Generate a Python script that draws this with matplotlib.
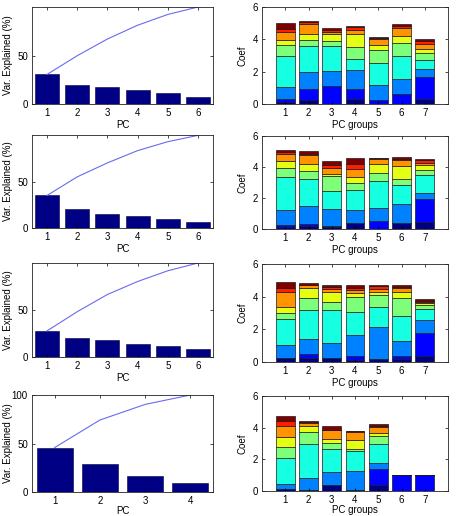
import numpy as np
import matplotlib
matplotlib.use("Agg")
import matplotlib.pyplot as plt

plt.rcParams['font.family'] = ['Liberation Sans', 'DejaVu Sans']
plt.rcParams['font.size'] = 7

# Dados ###############################################################################

# variancia explicada por PC (%), uma lista por linha
var_1 = [30.5, 19.3, 17.2, 14.2, 11.1, 7.7]
var_2 = [35.0, 20.0, 15.0, 13.2, 9.6, 6.8]
var_3 = [27.8, 20.4, 18.3, 13.8, 11.4, 8.3]
var_4 = [45.8, 28.4, 16.1, 9.7]

# niveis acumulados dos coeficientes (navy, azul, azul claro, ciano, verde, amarelo, laranja, vermelho, vinho)
coef_1 = [
    [0.10, 0.33, 1.05, 2.99, 3.65, 3.97, 4.48, 4.67, 5.00],
    [0.27, 0.93, 1.98, 3.61, 3.94, 4.33, 4.95, 5.07, 5.15],
    [0.02, 1.09, 2.06, 3.61, 3.90, 4.31, 4.43, 4.56, 4.70],
    [0.33, 0.95, 2.10, 2.78, 3.51, 4.31, 4.56, 4.74, 4.85],
    [0.00, 0.27, 1.20, 2.54, 3.36, 3.67, 4.05, 4.08, 4.14],
    [0.00, 0.64, 1.55, 2.95, 3.77, 4.19, 4.70, 4.85, 4.97],
    [0.29, 1.69, 2.16, 2.70, 3.15, 3.40, 3.73, 3.92, 4.04],
]
coef_2 = [
    [0.15, 0.28, 1.25, 3.35, 3.96, 4.39, 4.82, 4.97, 5.12],
    [0.20, 0.30, 1.48, 3.25, 3.72, 4.22, 4.78, 4.85, 5.01],
    [0.15, 0.17, 1.31, 2.43, 3.40, 3.57, 3.94, 4.11, 4.39],
    [0.41, 0.41, 1.25, 2.49, 2.99, 3.35, 3.87, 4.22, 4.56],
    [0.00, 0.49, 1.35, 3.07, 3.61, 4.22, 4.52, 4.55, 4.58],
    [0.41, 0.41, 1.63, 2.82, 3.25, 4.06, 4.44, 4.54, 4.67],
    [0.43, 1.91, 2.34, 3.51, 3.83, 4.11, 4.28, 4.43, 4.52],
]
coef_3 = [
    [0.27, 0.27, 1.07, 2.66, 2.99, 3.34, 4.26, 4.55, 4.88],
    [0.25, 0.47, 1.43, 3.18, 3.89, 4.51, 4.69, 4.72, 4.82],
    [0.27, 0.27, 1.19, 3.16, 3.65, 4.30, 4.50, 4.57, 4.71],
    [0.14, 0.35, 1.68, 3.05, 4.00, 4.20, 4.42, 4.55, 4.71],
    [0.16, 0.16, 2.15, 3.34, 4.08, 4.30, 4.45, 4.65, 4.71],
    [0.20, 0.35, 1.27, 2.83, 3.89, 4.30, 4.55, 4.61, 4.71],
    [0.35, 1.80, 2.60, 3.26, 3.48, 3.59, 3.69, 3.73, 3.83],
]
coef_4 = [
    [0.13, 0.13, 0.44, 2.10, 2.75, 3.42, 4.09, 4.40, 4.72],
    [0.06, 0.06, 0.84, 2.94, 3.73, 4.09, 4.30, 4.36, 4.42],
    [0.38, 0.38, 1.17, 2.68, 3.06, 3.31, 3.84, 3.88, 4.09],
    [0.06, 0.06, 1.28, 2.52, 2.68, 3.25, 3.70, 3.76, 3.82],
    [0.38, 1.36, 1.80, 3.00, 3.46, 3.67, 4.05, 4.09, 4.26],
    [0.00, 1.00, 1.00, 1.00, 1.00, 1.00, 1.00, 1.00, 1.00],
    [0.00, 1.00, 1.00, 1.00, 1.00, 1.00, 1.00, 1.00, 1.00],
]

variancias = [var_1, var_2, var_3, var_4]
coefs = [coef_1, coef_2, coef_3, coef_4]

# Layout (pixels: topo, base) ###############################################################################
W, H = 458, 516
linhas_esq = [(7, 104), (135, 228), (263, 357), (395, 492)]
linhas_dir = [(7, 104), (136, 229), (264, 362), (396, 491)]

cores = plt.cm.jet(np.linspace(0, 1, 9))

fig = plt.figure(figsize=(W / 100, H / 100), dpi=100)


def estilo(ax):
    ax.tick_params(direction='in', length=2.5, width=0.5, top=True, right=True, pad=3, labelsize=7)
    for s in ax.spines.values():
        s.set_linewidth(0.6)
        s.set_color('#222222')


for i in range(4):
    pad_x = 0 if i == 3 else 1

    # Pareto da variancia ###############################################################################
    t, b = linhas_esq[i]
    ax = fig.add_axes([32 / W, 1 - b / H, 181 / W, (b - t) / H])
    v = variancias[i]
    x = np.arange(1, len(v) + 1)
    ax.bar(x, v, width=0.8, color='#000085', edgecolor='#000040', linewidth=0.4)
    ax.plot(x, np.cumsum(v), color='#6a6af0', linewidth=0.8)
    ax.set_xlim(0.5, len(v) + 0.5)
    ax.set_ylim(0, 100)
    ax.set_xticks(x)
    if i == 3:
        ax.set_yticks([0, 50, 100])
    else:
        ax.set_yticks([0, 50])
    ax.set_xlabel("PC", labelpad=pad_x)
    ax.set_ylabel("Var. Explained (%)")
    ax.yaxis.set_label_coords(-19 / 181, 0.5)
    estilo(ax)

    # Coeficientes empilhados ###############################################################################
    t, b = linhas_dir[i]
    ax = fig.add_axes([262 / W, 1 - b / H, 186 / W, (b - t) / H])
    niveis = np.array(coefs[i])
    xg = np.arange(1, niveis.shape[0] + 1)
    base = np.zeros(niveis.shape[0])
    for k in range(niveis.shape[1]):
        altura = niveis[:, k] - base
        ax.bar(xg, altura, bottom=base, width=0.8, color=cores[k],
               edgecolor='#1a1a1a', linewidth=0.5)
        base = niveis[:, k]
    ax.set_xlim(0, 8)
    ax.set_ylim(0, 6)
    ax.set_xticks(xg)
    ax.set_yticks([0, 2, 4, 6])
    ax.set_xlabel("PC groups", labelpad=pad_x)
    ax.set_ylabel("Coef")
    ax.yaxis.set_label_coords(-15 / 186, 0.5)
    estilo(ax)

fig.savefig("out.png", dpi=100)
